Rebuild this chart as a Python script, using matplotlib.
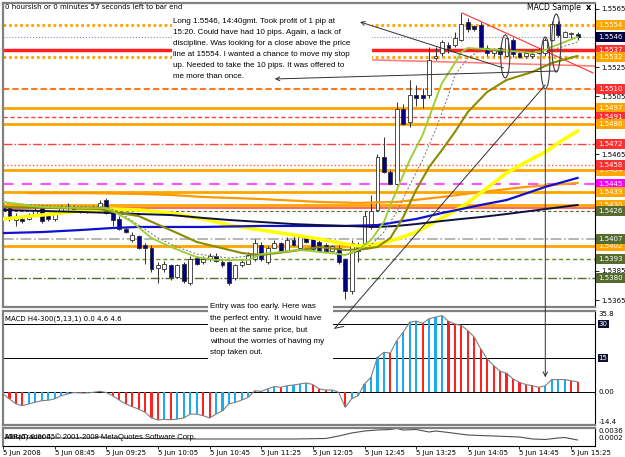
import matplotlib
matplotlib.use("Agg")
import matplotlib.pyplot as plt
from matplotlib.patches import Ellipse, Rectangle, ConnectionPatch
from matplotlib.transforms import blended_transform_factory

plt.rcParams['font.family'] = ['DejaVu Sans']

W, H = 625, 457


def fx(x):
    return x / W


def fy(y):
    return 1 - y / H


# 5 minute bars, 5 Jun 2008 08:05 .. 15:30
opens = [1.5429, 1.5428, 1.5420, 1.5421, 1.5421, 1.5424, 1.5429, 1.5423, 1.5421, 1.5425,
         1.5428, 1.5428, 1.5428, 1.5426, 1.5428, 1.5429, 1.5434, 1.5425, 1.5421, 1.5414,
         1.5406, 1.5409, 1.5403, 1.5401, 1.5387, 1.5386, 1.5389, 1.5381, 1.5390, 1.5377,
         1.5394, 1.5391, 1.5393, 1.5395, 1.5391, 1.5391, 1.5380, 1.5389, 1.5390, 1.5393,
         1.5403, 1.5391, 1.5401, 1.5404, 1.5399, 1.5406, 1.5401, 1.5408, 1.5407, 1.5405,
         1.5403, 1.5399, 1.5401, 1.5393, 1.5371, 1.5403, 1.5404, 1.5415, 1.5427, 1.5463,
         1.5453, 1.5445, 1.5496, 1.5487, 1.5506, 1.5506, 1.5506, 1.5531, 1.5535, 1.5540,
         1.5540, 1.5544, 1.5556, 1.5553, 1.5554, 1.5538, 1.5535, 1.5538, 1.5533, 1.5544,
         1.5535, 1.5533, 1.5533, 1.5535, 1.5535, 1.5544, 1.5555, 1.5546, 1.5548, 1.5548]
highs = [1.5430, 1.5429, 1.5425, 1.5423, 1.5425, 1.5430, 1.5430, 1.5424, 1.5426, 1.5430,
         1.5432, 1.5430, 1.5429, 1.5429, 1.5430, 1.5434, 1.5435, 1.5426, 1.5423, 1.5415,
         1.5412, 1.5410, 1.5404, 1.5403, 1.5391, 1.5392, 1.5390, 1.5390, 1.5391, 1.5395,
         1.5395, 1.5395, 1.5397, 1.5397, 1.5393, 1.5392, 1.5390, 1.5393, 1.5398, 1.5407,
         1.5405, 1.5402, 1.5406, 1.5405, 1.5408, 1.5409, 1.5409, 1.5409, 1.5408, 1.5406,
         1.5404, 1.5403, 1.5403, 1.5394, 1.5406, 1.5405, 1.5426, 1.5437, 1.5465, 1.5477,
         1.5454, 1.5501, 1.5500, 1.5516, 1.5513, 1.5511, 1.5539, 1.5539, 1.5544, 1.5542,
         1.5549, 1.5562, 1.5559, 1.5554, 1.5556, 1.5540, 1.5538, 1.5539, 1.5546, 1.5545,
         1.5536, 1.5537, 1.5537, 1.5538, 1.5545, 1.5557, 1.5557, 1.5550, 1.5549, 1.5549]
lows = [1.5424, 1.5419, 1.5416, 1.5418, 1.5420, 1.5423, 1.5418, 1.5419, 1.5419, 1.5424,
        1.5427, 1.5426, 1.5425, 1.5425, 1.5427, 1.5428, 1.5424, 1.5416, 1.5413, 1.5411,
        1.5405, 1.5400, 1.5390, 1.5384, 1.5377, 1.5384, 1.5379, 1.5380, 1.5377, 1.5375,
        1.5389, 1.5390, 1.5392, 1.5391, 1.5388, 1.5375, 1.5379, 1.5388, 1.5390, 1.5392,
        1.5392, 1.5390, 1.5401, 1.5397, 1.5399, 1.5402, 1.5401, 1.5404, 1.5399, 1.5398,
        1.5398, 1.5398, 1.5390, 1.5366, 1.5369, 1.5391, 1.5403, 1.5414, 1.5426, 1.5452,
        1.5444, 1.5444, 1.5485, 1.5484, 1.5498, 1.5497, 1.5504, 1.5530, 1.5533, 1.5535,
        1.5539, 1.5543, 1.5549, 1.5550, 1.5538, 1.5533, 1.5533, 1.5532, 1.5532, 1.5532,
        1.5531, 1.5531, 1.5531, 1.5534, 1.5533, 1.5543, 1.5546, 1.5546, 1.5545, 1.5544]
closes = [1.5426, 1.5421, 1.5422, 1.5419, 1.5423, 1.5427, 1.5419, 1.5421, 1.5424, 1.5429,
          1.5429, 1.5427, 1.5426, 1.5428, 1.5429, 1.5432, 1.5425, 1.5420, 1.5414, 1.5412,
          1.5410, 1.5401, 1.5401, 1.5386, 1.5389, 1.5390, 1.5381, 1.5389, 1.5378, 1.5393,
          1.5390, 1.5393, 1.5395, 1.5392, 1.5389, 1.5377, 1.5389, 1.5391, 1.5396, 1.5404,
          1.5393, 1.5401, 1.5404, 1.5398, 1.5406, 1.5403, 1.5408, 1.5405, 1.5400, 1.5399,
          1.5399, 1.5402, 1.5391, 1.5371, 1.5404, 1.5399, 1.5423, 1.5426, 1.5463, 1.5453,
          1.5445, 1.5496, 1.5486, 1.5506, 1.5504, 1.5504, 1.5530, 1.5533, 1.5542, 1.5538,
          1.5545, 1.5555, 1.5551, 1.5551, 1.5539, 1.5535, 1.5537, 1.5534, 1.5545, 1.5534,
          1.5532, 1.5535, 1.5534, 1.5536, 1.5544, 1.5555, 1.5547, 1.5549, 1.5548, 1.5546]

# moving averages at selected bars
ma_yellow_idx = [0, 6, 12, 17, 21, 26, 31, 35, 40, 45, 49, 53, 55, 58, 61, 64, 68, 71, 74, 78, 81, 84, 86, 89]
ma_yellow = [1.54207, 1.54234, 1.54262, 1.54275, 1.54269, 1.54248, 1.54207, 1.54165, 1.54131, 1.54097,
             1.54069, 1.54035, 1.54021, 1.54035, 1.54069, 1.54117, 1.54214, 1.54289, 1.54385, 1.54523,
             1.54598, 1.54667, 1.54729, 1.54812]
ma_blue_idx = [0, 6, 12, 17, 21, 26, 31, 40, 49, 53, 58, 61, 64, 68, 71, 74, 78, 84, 89]
ma_blue = [1.54110, 1.54117, 1.54131, 1.54145, 1.54152, 1.54152, 1.54152, 1.54159, 1.54159, 1.54159,
           1.54165, 1.54186, 1.54207, 1.54248, 1.54275, 1.54303, 1.54337, 1.54427, 1.54489]
ma_navy_idx = [0, 6, 12, 17, 21, 26, 31, 35, 40, 45, 49, 53, 58, 61, 64, 68, 71, 74, 78, 84, 89]
ma_navy = [1.54269, 1.54262, 1.54255, 1.54248, 1.54241, 1.54234, 1.54214, 1.54200, 1.54186, 1.54172,
           1.54165, 1.54159, 1.54152, 1.54159, 1.54172, 1.54193, 1.54207, 1.54220, 1.54241, 1.54275,
           1.54303]
ma_orange_idx = [4, 12, 21, 26, 31, 40, 49, 55, 61, 68, 74, 81, 89]
ma_orange = [1.54385, 1.54385, 1.54379, 1.54372, 1.54358, 1.54344, 1.54324, 1.54317, 1.54324, 1.54358,
             1.54392, 1.54427, 1.54454]
ma_green_idx = [0, 6, 12, 16, 17, 20, 23, 26, 30, 33, 38, 40, 46, 52, 53, 55, 57, 59, 60, 61, 63, 65, 67,
                68, 70, 71, 72, 77, 82, 84, 85, 87, 89]
ma_green = [1.54324, 1.54289, 1.54282, 1.54282, 1.54262, 1.54186, 1.54076, 1.54014, 1.53945, 1.53925,
            1.53925, 1.53966, 1.53994, 1.53966, 1.53959, 1.53994, 1.54062, 1.54186, 1.54303, 1.54406,
            1.54612, 1.54784, 1.55025, 1.55141, 1.55279, 1.55354, 1.55382, 1.55368, 1.55348, 1.55368,
            1.55389, 1.55423, 1.55458]
ma_grey_idx = [0, 8, 16, 18, 21, 24, 27, 30, 35, 40, 45, 50, 53, 55, 57, 59, 61, 63, 65, 67, 69, 70, 72,
               74, 78, 84, 89]
ma_grey = [1.54317, 1.54296, 1.54289, 1.54255, 1.54165, 1.54076, 1.54014, 1.53966, 1.53939, 1.53959,
           1.53994, 1.53994, 1.53959, 1.53980, 1.54028, 1.54117, 1.54255, 1.54440, 1.54612, 1.54818,
           1.55059, 1.55196, 1.55313, 1.55368, 1.55354, 1.55354, 1.55423]
ma_olive_idx = [0, 8, 15, 17, 21, 27, 30, 37, 40, 45, 49, 53, 56, 58, 60, 62, 64, 66, 68, 70, 72, 75, 78,
                82, 85, 89]
ma_olive = [1.54289, 1.54282, 1.54275, 1.54255, 1.54227, 1.54110, 1.54049, 1.53973, 1.53959, 1.53987,
            1.54014, 1.53994, 1.54000, 1.54014, 1.54076, 1.54220, 1.54406, 1.54564, 1.54681, 1.54805,
            1.54942, 1.55080, 1.55162, 1.55217, 1.55279, 1.55327]

# horizontal price levels with their right-hand labels
levels = [1.5554, 1.5546, 1.5537, 1.5532, 1.5510, 1.5497, 1.5491, 1.5486, 1.5472, 1.5454,
          1.5458, 1.5445, 1.5439, 1.5430, 1.5402, 1.5407, 1.5426, 1.5393, 1.5380]
level_line = ['#ffa500', '#8c8cac', '#ff2020', '#ffa500', '#ff7a1a', '#ffa500', '#ff4040', '#ffa500',
              '#ff4040', '#ffa500', '#ff6030', '#ff50ff', '#ffa500', '#ffa500', '#ffa500', '#a9a9a9',
              '#556b2f', '#6b8e23', '#556b2f']
level_ls = [(0, (1, 1)), ':', '-', (0, (1, 1)), (0, (3, 1.5)), '-', (0, (3, 2)), '-', '-.', '-',
            ':', (0, (5, 4)), '-', '-', '-', '-.', (0, (3, 2)), (0, (3, 2)), '-.']
level_lw = [2, 0.8, 2.5, 2, 1.5, 2, 1, 2, 1, 2, 1, 1.5, 2, 2, 2, 1.2, 0.8, 1, 1]
level_box = ['#ffa500', '#000040', '#ff3030', '#ffa500', '#ff3030', '#ffa500', '#ff3030', '#ffa500',
             '#ff3030', '#ffa500', '#ff3030', '#ff00ff', '#ffa500', '#ffa500', '#ffa500', '#556b2f',
             '#556b2f', '#556b2f', '#556b2f']
red_line_level = 1.5428

price_ticks = [1.5365, 1.5385, 1.5405, 1.5425, 1.5445, 1.5465, 1.5485, 1.5505, 1.5525, 1.5545, 1.5565]

# MACD histogram (5,13,1) per bar
macd = [-0.7, -2.9, -5.1, -5.9, -5.1, -4.4, -3.7, -3.5, -2.9, -1.5,
        -0.7, -0.1, -0.3, -0.3, 0.0, 0.4, -0.1, -1.5, -3.4, -5.1,
        -6.3, -7.4, -8.8, -11.3, -12.2, -11.9, -12.1, -11.8, -11.3, -9.6,
        -9.6, -10.3, -11.3, -9.6, -8.1, -5.1, -4.4, -3.4, -2.2, 0.7,
        0.4, 1.5, 2.5, 2.2, 2.9, 3.2, 3.7, 4.1, 3.4, 1.5,
        1.0, 1.0, 0.0, -6.6, -2.9, -1.5, 3.7, 6.6, 15.4, 17.6,
        17.3, 22.8, 26.5, 30.9, 31.3, 30.4, 32.4, 33.1, 33.8, 31.3,
        30.1, 29.4, 27.2, 24.3, 19.1, 14.7, 11.8, 9.3, 8.4, 5.9,
        4.4, 3.4, 2.9, 2.2, 2.9, 5.6, 5.6, 5.6, 5.1, 4.6]

# ATR(6)
atr_idx = [0, 14, 15, 16, 30, 45, 50, 52, 54, 56, 58, 60, 61, 62, 64, 66, 67, 69, 72, 76, 80, 82, 84, 86, 87, 89]
atr = [0.00104, 0.00104, 0.00131, 0.00104, 0.00077, 0.00077, 0.00091, 0.00158, 0.00239, 0.00293,
       0.00320, 0.00334, 0.00361, 0.00320, 0.00334, 0.00266, 0.00293, 0.00253, 0.00185, 0.00158,
       0.00131, 0.00077, 0.00064, 0.00104, 0.00118, 0.00050]

x_labels = ["5 Jun 2008", "5 Jun 08:45", "5 Jun 09:25", "5 Jun 10:05", "5 Jun 10:45", "5 Jun 11:25",
            "5 Jun 12:05", "5 Jun 12:45", "5 Jun 13:25", "5 Jun 14:05", "5 Jun 14:45", "5 Jun 15:25"]

# drawn objects (bar index, price)
ell_x = [77.8, 84.0, 85.7]
ell_y = [1.55324, 1.55279, 1.55416]
ell_h = [0.00296, 0.00357, 0.00399]
red_trend = ([71.1, 91.4], [1.55623, 1.55210])
pink_trend = ([57.3, 91.7], [1.55300, 1.55258])

top_note = ["Long 1.5546, 14:40gmt. Took profit of 1 pip at",
            "15:20. Could have had 10 pips. Again, a lack of",
            "discipline. Was looking for a close above the price",
            "line at 15554. I wanted a chance to move my stop",
            "up. Needed to take the 10 pips. It was offered to",
            "me more than once."]
entry_note = ["Entry was too early. Here was",
              "the perfect entry.  It would have",
              "been at the same price, but",
              "without the worries of having my",
              "stop taken out."]

# ---------------- figure ----------------
fig = plt.figure(figsize=(6.25, 4.57), dpi=100)
ax = fig.add_axes([fx(3), fy(307), 592 / W, 304 / H])
axm = fig.add_axes([fx(3), fy(425), 592 / W, 114 / H])
axa = fig.add_axes([fx(3), fy(446), 592 / W, 18 / H])

n = len(opens)
idx = list(range(n))
for a in (ax, axm, axa):
    a.set_xlim(0, 91.7)
    a.set_facecolor('white')
    for s in ('left', 'top', 'bottom'):
        a.spines[s].set_color('#808080')
        a.spines[s].set_linewidth(1.6)
    a.spines['right'].set_color('black')
    a.spines['right'].set_linewidth(0.8)
axa.spines['bottom'].set_color('black')
axa.spines['bottom'].set_linewidth(0.8)

ax.set_ylim(1.53602, 1.55691)
ax.set_xticks([])
ax.yaxis.tick_right()
ax.set_yticks(price_ticks)
ax.set_yticklabels([f"{p:.4f}" for p in price_ticks])
ax.tick_params(axis='y', length=3, width=0.6, labelsize=5, pad=1.5)

# levels
trans_lab = blended_transform_factory(ax.transAxes, ax.transData)
for p, c, ls, lw in zip(levels, level_line, level_ls, level_lw):
    ax.axhline(p, color=c, linestyle=ls, linewidth=lw, zorder=1)
ax.axhline(red_line_level, color='#ff5a5a', linewidth=1.3, zorder=1)
ax.plot(*pink_trend, color='#ff8080', linewidth=1.2, zorder=1)
ax.plot(*red_trend, color='#ff3030', linewidth=0.8, zorder=1)

# candles
body_lo = [min(o, c) for o, c in zip(opens, closes)]
body_h = [max(abs(c - o), 0.00003) for o, c in zip(opens, closes)]
body_c = ['white' if c >= o else '#000080' for o, c in zip(opens, closes)]
ax.vlines(idx, lows, highs, color='#303030', linewidth=0.7, zorder=2)
ax.bar(idx, body_h, bottom=body_lo, width=0.6, color=body_c, edgecolor='#303030',
       linewidth=0.6, zorder=2.5)

# moving averages
ax.plot(ma_orange_idx, ma_orange, color='#ff9a00', linewidth=1.6, zorder=3)
ax.plot(ma_yellow_idx, ma_yellow, color='#ffff00', linewidth=2.6, zorder=3)
ax.plot(ma_blue_idx, ma_blue, color='#1010d0', linewidth=1.6, zorder=3)
ax.plot(ma_navy_idx, ma_navy, color='#101040', linewidth=1.4, zorder=3)
ax.plot(ma_olive_idx, ma_olive, color='#8b8b00', linewidth=1.5, zorder=3)
ax.plot(ma_grey_idx, ma_grey, color='#707070', linewidth=0.7, linestyle=(0, (2, 2)), zorder=3)
ax.plot(ma_green_idx, ma_green, color='#9acd32', linewidth=1.3, zorder=3)

for ex, ey, eh in zip(ell_x, ell_y, ell_h):
    ax.add_patch(Ellipse((ex, ey), 1.4, eh, fill=False, edgecolor='#404040', linewidth=0.8, zorder=4))

# price labels on the right
for p, bc in zip(levels, level_box):
    ax.text(1.006, p, f"{p:.4f}", transform=trans_lab, ha='left', va='center', fontsize=5,
            color='white', clip_on=False, zorder=6,
            bbox=dict(boxstyle='square,pad=0.3', fc=bc, ec='none'))

# MACD panel
axm.set_ylim(-14.4, 35.8)
axm.set_xticks([])
axm.set_yticks([])
hist_c = ['#ff2020'] + ['#1eaaf0' if macd[i] >= macd[i - 1] else '#ff2020' for i in range(1, n)]
for lv in (30, 15, 0):
    axm.axhline(lv, color='black', linewidth=0.7, zorder=1)
axm.bar(idx, macd, width=0.33, color=hist_c, zorder=2)
axm.plot(idx, macd, color='#808080', linewidth=0.8, zorder=3)
tm = blended_transform_factory(axm.transAxes, axm.transData)
axm.text(1.006, 35.8, "35.8", transform=tm, ha='left', va='top', fontsize=5, clip_on=False)
axm.text(1.006, 0, "0.00", transform=tm, ha='left', va='center', fontsize=5, clip_on=False)
axm.text(1.006, -14.4, "-14.4", transform=tm, ha='left', va='bottom', fontsize=5, clip_on=False)
for lv in (30, 15):
    axm.text(1.006, lv, str(lv), transform=tm, ha='left', va='center', fontsize=5, color='white',
             clip_on=False, bbox=dict(boxstyle='square,pad=0.15', fc='#101030', ec='none'))
axm.text(0.004, 0.93, "MACD H4-300(5,13,1) 0.0 4.6 4.6", transform=axm.transAxes, fontsize=5,
         va='center')

# ATR panel
axa.set_ylim(-0.00112, 0.00374)
axa.plot(atr_idx, atr, color='#505050', linewidth=0.8)
axa.set_yticks([])
axa.set_xticks(range(0, 89, 8))
axa.set_xticklabels(x_labels, ha='left')
axa.tick_params(axis='x', length=2.5, width=0.6, labelsize=5, pad=0.5)
ta = blended_transform_factory(axa.transAxes, axa.transAxes)
axa.text(1.006, 0.85, "0.0036", transform=ta, fontsize=5, va='center', clip_on=False)
axa.text(1.006, 0.45, "0.0002", transform=ta, fontsize=5, va='center', clip_on=False)
axa.text(0.004, 0.5, "MetaTrader 4, \u00a9 2001-2008 MetaQuotes Software Corp.", transform=ta,
         fontsize=5.5, family='Liberation Sans', va='center')
axa.text(0.004, 0.5, "ATR(6) 0.0005", transform=ta, fontsize=5, va='center')

# header texts
fig.text(fx(5), fy(7), "0 hoursish or 0 minutes 57 seconds left to bar end", fontsize=5, va='center')
fig.text(fx(527), fy(8), "MACD Sample", fontsize=5.5, va='center')
fig.text(fx(586), fy(8), "x", fontsize=6, va='center', weight='bold')

# note boxes
fig.add_artist(Rectangle((fx(172), fy(85)), 200 / W, 70 / H, transform=fig.transFigure,
                         fc='white', ec='none', zorder=2.9))
for k, line in enumerate(top_note):
    fig.text(fx(173), fy(21.7 + 11.05 * k), line, fontsize=5.8, family='Liberation Sans',
             va='center', zorder=3)
fig.add_artist(Rectangle((fx(208), fy(360)), 125 / W, 61 / H, transform=fig.transFigure,
                         fc='white', ec='none', zorder=2.9))
for k, line in enumerate(entry_note):
    fig.text(fx(210), fy(307 + 11.5 * k), line, fontsize=5.8, family='Liberation Sans',
             va='center', zorder=3)

# arrows and connecting lines
arrow_kw = dict(color='#303030', linewidth=0.7, zorder=5)
con = ConnectionPatch((77.5, 1.55245), (55.3, 1.55561), 'data', 'data', axesA=ax, axesB=ax,
                      arrowstyle='->', mutation_scale=7, **arrow_kw)
fig.add_artist(con)
con = ConnectionPatch((85.9, 1.55224), (42.1, 1.55169), 'data', 'data', axesA=ax, axesB=ax,
                      arrowstyle='->', mutation_scale=7, **arrow_kw)
fig.add_artist(con)
con = ConnectionPatch((84.0, 1.55093), (84.0, 6.6), 'data', 'data', axesA=ax, axesB=axm,
                      arrowstyle='->', mutation_scale=8, **arrow_kw)
fig.add_artist(con)
con = ConnectionPatch((84.0, 1.55128), (51.4, 28.2), 'data', 'data', axesA=ax, axesB=axm,
                      arrowstyle='-', **arrow_kw)
fig.add_artist(con)
con = ConnectionPatch((51.4, 28.2), (52.8, 29.0), 'data', 'data', axesA=axm, axesB=axm,
                      arrowstyle='-', **arrow_kw)
fig.add_artist(con)

fig.savefig('out.png', dpi=100)
